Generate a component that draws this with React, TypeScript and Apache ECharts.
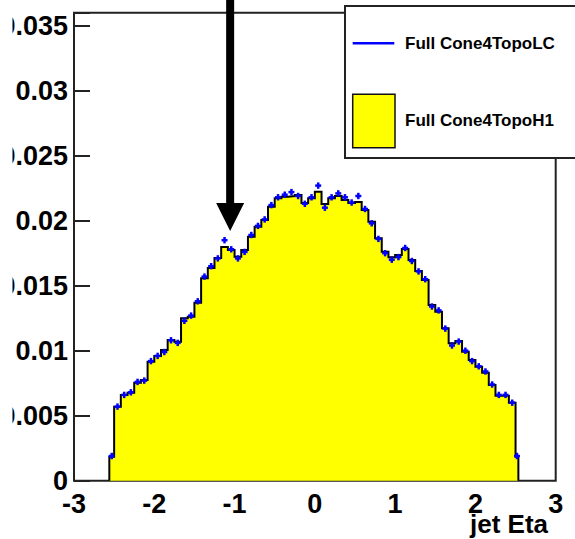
import React, { useEffect, useRef } from "react";
import * as echarts from "echarts";

// Axis ranges
const ETA_RANGE = [-3, 3];
const DENSITY_RANGE = [0, 0.036];
const DENSITY_STEP = 0.005;

// Binning: narrow outer bins plus 60 regular bins between -2.5 and 2.5
const FIRST_EDGE = -2.56;
const LAST_EDGE = 2.535;
const CORE_EDGES = [-2.5, 2.5];
const CORE_BINS = 60;

// Full Cone4TopoH1 (filled histogram), one value per bin
const H1_VALUES = [
  0.00185,
  0.00569, 0.00659, 0.00677, 0.00754, 0.00775, 0.00915, 0.00959, 0.01005, 0.01082, 0.01069,
  0.01249, 0.01262, 0.01369, 0.01557, 0.01636, 0.01713, 0.01798, 0.01775, 0.01723, 0.01775,
  0.01877, 0.01954, 0.02005, 0.02108, 0.02172, 0.02185, 0.0219, 0.02198, 0.02136, 0.02172,
  0.02223, 0.02128, 0.02172, 0.0219, 0.02159, 0.02136, 0.02144, 0.02082, 0.01992, 0.01865,
  0.01762, 0.01718, 0.01736, 0.01782, 0.01698, 0.01613, 0.01544, 0.01352, 0.013, 0.01172,
  0.01057, 0.01075, 0.00992, 0.00928, 0.00877, 0.00831, 0.00736, 0.00654, 0.00654, 0.006,
  0.00185,
];

// Full Cone4TopoLC (points), one value per bin
const LC_VALUES = [
  0.0019,
  0.0057, 0.0066, 0.0068, 0.0076, 0.0077, 0.0092, 0.0096, 0.0099, 0.0108, 0.0106,
  0.0123, 0.0127, 0.0138, 0.0157, 0.0165, 0.0171, 0.0185, 0.0178, 0.0171, 0.0176,
  0.0189, 0.0196, 0.0201, 0.0212, 0.0218, 0.022, 0.0222, 0.0219, 0.0213, 0.0218,
  0.0227, 0.021, 0.0218, 0.0221, 0.0218, 0.0214, 0.0219, 0.0209, 0.0198, 0.0186,
  0.0175, 0.017, 0.0172, 0.0179, 0.0169, 0.0161, 0.0155, 0.0134, 0.0131, 0.0117,
  0.0104, 0.0107, 0.01, 0.0092, 0.0088, 0.0084, 0.0074, 0.0066, 0.0066, 0.006,
  0.0019,
];

const SERIES_NAMES = ["Full Cone4TopoLC", "Full Cone4TopoH1"];
const X_TITLE = "jet Eta";

// Arrow annotation tip, in (eta, density)
const ARROW_TIP = [-1.055, 0.0192];

const FONT = '"Liberation Sans", Arial, Helvetica, sans-serif';

function buildEdges(): number[] {
  const edges = [FIRST_EDGE];
  const w = (CORE_EDGES[1] - CORE_EDGES[0]) / CORE_BINS;
  for (let i = 0; i <= CORE_BINS; i++) edges.push(CORE_EDGES[0] + i * w);
  edges.push(LAST_EDGE);
  return edges;
}

export default function App() {
  const ref = useRef<HTMLDivElement>(null);

  useEffect(() => {
    if (!ref.current) return;
    const chart = echarts.init(ref.current, undefined, { renderer: "svg" });
    const edges = buildEdges();

    const stepData: number[][] = [[edges[0], 0]];
    H1_VALUES.forEach((v, i) => {
      stepData.push([edges[i], v], [edges[i + 1], v]);
    });
    stepData.push([edges[edges.length - 1], 0]);

    const lcData = LC_VALUES.map((v, i) => [(edges[i] + edges[i + 1]) / 2, v]);

    chart.setOption({
      animation: false,
      backgroundColor: "#ffffff",
      grid: {
        left: 74,
        right: 19.3,
        top: 12.7,
        bottom: 58.3,
        show: true,
        borderColor: "#222",
        borderWidth: 2,
        backgroundColor: "transparent",
        containLabel: false,
        outerBoundsMode: "none",
      },
      xAxis: {
        type: "value",
        min: ETA_RANGE[0],
        max: ETA_RANGE[1],
        interval: 1,
        axisLine: { show: false, onZero: false },
        axisTick: { show: false },
        splitLine: { show: false },
        axisLabel: {
          show: true,
          margin: 10,
          showMinLabel: true,
          showMaxLabel: true,
          color: "#000",
          fontFamily: FONT,
          fontWeight: "bold",
          fontSize: 27,
          formatter: (v: number) => String(Math.round(v)),
        },
      },
      yAxis: {
        type: "value",
        min: DENSITY_RANGE[0],
        max: DENSITY_RANGE[1],
        interval: DENSITY_STEP,
        axisLine: { show: false, onZero: false },
        splitLine: { show: false },
        axisTick: {
          show: true,
          inside: true,
          length: 16,
          lineStyle: { color: "#222", width: 2 },
        },
        axisLabel: {
          show: true,
          margin: 6,
          color: "#000",
          fontFamily: FONT,
          fontWeight: "bold",
          fontSize: 27,
          formatter: (v: number) =>
            Math.abs(v - DENSITY_RANGE[1]) < 1e-9 ? "" : String(+v.toFixed(3)),
        },
      },
      series: [
        {
          name: SERIES_NAMES[1],
          type: "line",
          data: stepData,
          symbol: "none",
          silent: true,
          z: 2,
          lineStyle: { color: "#000", width: 2, join: "miter" },
          areaStyle: { color: "#ffff00", opacity: 1 },
        },
        {
          name: SERIES_NAMES[0],
          type: "custom",
          data: lcData,
          z: 3,
          silent: true,
          encode: { x: 0, y: 1 },
          renderItem: (_params: any, api: any) => {
            const p = api.coord([api.value(0), api.value(1)]);
            const s = { stroke: "#0000ff", lineWidth: 2.5 };
            return {
              type: "group",
              children: [
                { type: "line", shape: { x1: p[0] - 3, y1: p[1], x2: p[0] + 3, y2: p[1] }, style: s },
                { type: "line", shape: { x1: p[0], y1: p[1] - 3.2, x2: p[0], y2: p[1] + 3.2 }, style: s },
              ],
            };
          },
        },
      ],
    });

    const tip = chart.convertToPixel({ gridIndex: 0 }, ARROW_TIP) as number[];
    const tx = tip[0];
    const ty = tip[1];
    const headH = 28;
    const headW = 14;
    const shaftW = 4;

    chart.setOption({
      graphic: [
        {
          type: "polygon",
          z: 50,
          shape: {
            points: [
              [tx - shaftW, -2],
              [tx - shaftW, ty - headH],
              [tx - headW, ty - headH],
              [tx, ty],
              [tx + headW, ty - headH],
              [tx + shaftW, ty - headH],
              [tx + shaftW, -2],
            ],
          },
          style: { fill: "#000" },
        },
        {
          type: "rect",
          z: 60,
          shape: { x: 345, y: 6, width: 260, height: 152 },
          style: { fill: "#fff", stroke: "#222", lineWidth: 2 },
        },
        {
          type: "line",
          z: 61,
          shape: { x1: 352.7, y1: 43.3, x2: 394.3, y2: 43.3 },
          style: { stroke: "#0000ff", lineWidth: 2.5 },
        },
        {
          type: "text",
          z: 61,
          x: 405,
          y: 43.3,
          style: {
            text: SERIES_NAMES[0],
            fill: "#000",
            font: `bold 17px ${FONT}`,
            verticalAlign: "middle",
          },
        },
        {
          type: "rect",
          z: 61,
          shape: { x: 352.7, y: 94.3, width: 42.3, height: 53.4 },
          style: { fill: "#ffff00", stroke: "#111", lineWidth: 1.5 },
        },
        {
          type: "text",
          z: 61,
          x: 405,
          y: 120,
          style: {
            text: SERIES_NAMES[1],
            fill: "#000",
            font: `bold 17px ${FONT}`,
            verticalAlign: "middle",
          },
        },
        {
          type: "text",
          z: 61,
          x: 548,
          y: 524,
          style: {
            text: X_TITLE,
            fill: "#000",
            font: `bold 26px ${FONT}`,
            align: "right",
            verticalAlign: "middle",
          },
        },
        {
          type: "rect",
          z: 100,
          shape: { x: 0, y: 0, width: 12.5, height: 539 },
          style: { fill: "#fff" },
        },
      ],
    });

    return () => chart.dispose();
  }, []);

  return (
    <div
      ref={ref}
      style={{ position: "fixed", left: 0, top: 0, width: 575, height: 539, background: "#fff" }}
    />
  );
}
